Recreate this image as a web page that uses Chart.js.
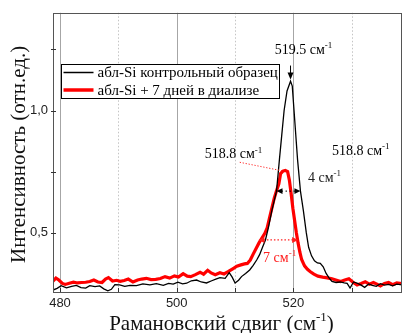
<!DOCTYPE html>
<html>
<head>
<meta charset="utf-8">
<script src="https://cdn.jsdelivr.net/npm/chart.js@4/dist/chart.umd.min.js"></script>
<style>
html,body{margin:0;padding:0;background:#fff;}
#c{display:block;}
</style>
</head>
<body>
<canvas id="c" width="404" height="333"></canvas>
<script>
// ---- data ----
const seriesLabels = ['абл-Si контрольный образец', 'абл-Si + 7 дней в диализе'];
const blackX = [478.8,479.5,480.2,481.1,482.0,482.8,483.6,484.4,485.1,486.0,486.8,487.5,488.2,488.8,489.4,490.2,491.1,492.0,493.1,494.2,495.4,496.5,497.7,498.6,499.4,500.2,501.0,501.7,502.5,503.4,504.2,505.1,506.0,506.7,507.4,508.3,509.0,509.5,510.0,510.6,511.1,511.8,512.5,513.1,513.7,514.2,514.7,515.2,515.7,516.3,516.8,517.1,517.6,518.0,518.4,518.9,519.5,519.8,520.1,520.4,520.7,521.2,521.7,522.2,522.6,523.1,523.6,524.1,524.6,525.1,525.6,526.1,526.6,527.3,528.0,528.7,529.2,529.7,530.3,531.0,531.6,532.2,532.9,533.5,534.2,534.9,535.6,536.3,537.0,537.7,538.6];
const blackY = [0.265,0.272,0.283,0.274,0.280,0.284,0.275,0.273,0.283,0.279,0.282,0.270,0.262,0.268,0.287,0.286,0.280,0.284,0.283,0.290,0.286,0.291,0.284,0.292,0.289,0.297,0.290,0.293,0.303,0.306,0.298,0.294,0.303,0.310,0.316,0.313,0.336,0.318,0.294,0.305,0.320,0.333,0.347,0.366,0.388,0.410,0.440,0.470,0.520,0.590,0.640,0.670,0.800,0.900,1.000,1.080,1.120,1.100,1.000,0.900,0.800,0.670,0.590,0.500,0.440,0.405,0.385,0.376,0.374,0.360,0.333,0.315,0.300,0.296,0.298,0.294,0.292,0.273,0.298,0.292,0.285,0.276,0.290,0.284,0.280,0.291,0.285,0.288,0.282,0.289,0.286];
const redX = [478.8,479.3,479.8,480.4,480.9,481.6,482.3,483.0,483.7,484.4,485.1,485.8,486.5,487.2,487.8,488.3,489.0,489.7,490.3,491.0,491.7,492.5,493.3,494.0,494.8,495.6,496.4,497.2,498.0,498.8,499.6,500.3,501.1,501.8,502.4,503.2,504.0,504.6,505.3,505.9,506.6,507.4,508.1,508.8,509.6,510.3,511.0,511.6,512.1,512.6,513.1,513.6,514.1,514.6,515.1,515.5,515.9,516.3,516.7,517.1,517.5,517.8,518.2,518.6,519.0,519.3,519.6,519.9,520.2,520.5,520.8,521.1,521.4,521.9,522.4,522.9,523.5,524.2,525.0,525.8,526.6,527.4,528.1,528.8,529.5,530.2,530.9,531.6,532.3,533.0,533.7,534.3,534.9,535.6,536.3,537.0,537.7,538.6];
const redY = [0.302,0.314,0.306,0.292,0.288,0.293,0.297,0.294,0.296,0.297,0.300,0.306,0.298,0.296,0.310,0.316,0.302,0.305,0.301,0.304,0.310,0.298,0.306,0.310,0.313,0.308,0.309,0.312,0.320,0.314,0.323,0.318,0.332,0.322,0.320,0.328,0.338,0.330,0.346,0.335,0.328,0.336,0.331,0.340,0.352,0.363,0.368,0.372,0.374,0.388,0.412,0.435,0.458,0.478,0.497,0.520,0.560,0.600,0.640,0.672,0.700,0.742,0.752,0.755,0.750,0.715,0.660,0.600,0.550,0.500,0.457,0.420,0.390,0.364,0.350,0.340,0.330,0.322,0.318,0.315,0.311,0.305,0.300,0.306,0.311,0.297,0.286,0.292,0.299,0.289,0.296,0.289,0.282,0.292,0.296,0.287,0.294,0.291];
const xTickValues = [480,490,500,510,520,530];
const xLabelValues = [480,500,520];
const xMajorGrid = [480,500,520];
const xMinorGrid = [490,510,530];
const yTickValues = [0.5,0.75,1.0,1.25];
const yLabelValues = [0.5,1.0];
const xRange = [478.8,538.6];
const yRange = [0.257,1.40];

// annotations in data units
const annPeakLabel = {x:516.8, y:1.253, text:'519.5 см', sup:'-1'};
const annPeakArrow = {x:519.5, y0:1.184, y1:1.127};
const annLeftLabel = {x:504.8, y:0.824, text:'518.8 см', sup:'-1'};
const annRightLabel = {x:526.6, y:0.837, text:'518.8 см', sup:'-1'};
const annLeftPointer = {x0:510.8, y0:0.788, x1:518.3, y1:0.752};
const annBlackWidth = {x0:517.1, x1:521.2, y:0.67, label:{x:522.5, y:0.727, text:'4 см', sup:'-1'}};
const annRedWidth = {x0:514.0, x1:520.8, y:0.47, label:{x:514.8, y:0.40, text:'7 см', sup:'-1'}};

const SERIF = '"Liberation Serif","Times New Roman",serif';
const SANS = '"Liberation Sans",Arial,sans-serif';

function toPts(xs, ys){ return xs.map((x,i)=>({x:x, y:ys[i]})); }

function drawRich(ctx, x, y, parts, size, color, align){
  ctx.save();
  ctx.fillStyle = color;
  ctx.textBaseline = 'alphabetic';
  ctx.textAlign = 'left';
  const supSize = Math.round(size*0.62);
  let w = 0;
  parts.forEach(p=>{
    ctx.font = (p.sup?supSize:size)+'px '+SERIF;
    p.w = ctx.measureText(p.t).width;
    w += p.w;
  });
  let cx = align==='center' ? x - w/2 : x;
  parts.forEach(p=>{
    ctx.font = (p.sup?supSize:size)+'px '+SERIF;
    ctx.fillText(p.t, cx, p.sup ? y - size*0.42 : y);
    cx += p.w;
  });
  ctx.restore();
}

function arrowHead(ctx, x, y, dx, dy, len, half, color){
  ctx.save();
  ctx.fillStyle = color;
  ctx.beginPath();
  ctx.moveTo(x, y);
  ctx.lineTo(x - dx*len - dy*half, y - dy*len + dx*half);
  ctx.lineTo(x - dx*len + dy*half, y - dy*len - dx*half);
  ctx.closePath();
  ctx.fill();
  ctx.restore();
}

const customDraw = {
  id: 'customDraw',
  beforeDatasetsDraw(chart){
    const ctx = chart.ctx, a = chart.chartArea, xs = chart.scales.x;
    ctx.save();
    ctx.lineWidth = 1;
    ctx.strokeStyle = '#c4c4c4';
    ctx.setLineDash([1.5,2]);
    xMinorGrid.forEach(v=>{
      const px = Math.round(xs.getPixelForValue(v))+0.5;
      ctx.beginPath(); ctx.moveTo(px, a.top); ctx.lineTo(px, a.bottom); ctx.stroke();
    });
    ctx.setLineDash([]);
    ctx.strokeStyle = '#a6a6a6';
    xMajorGrid.forEach(v=>{
      const px = Math.round(xs.getPixelForValue(v))+0.5;
      ctx.beginPath(); ctx.moveTo(px, a.top); ctx.lineTo(px, a.bottom); ctx.stroke();
    });
    ctx.restore();
  },
  afterDatasetsDraw(chart){
    const ctx = chart.ctx, a = chart.chartArea, xs = chart.scales.x, ys = chart.scales.y;
    const X = v=>xs.getPixelForValue(v), Y = v=>ys.getPixelForValue(v);
    ctx.save();
    // frame
    ctx.strokeStyle = '#555';
    ctx.lineWidth = 1;
    ctx.strokeRect(Math.round(a.left)+0.5, Math.round(a.top)+0.5, Math.round(a.right-a.left)-1, Math.round(a.bottom-a.top));
    // ticks
    ctx.strokeStyle = '#333';
    xTickValues.forEach(v=>{
      const px = Math.round(X(v))+0.5;
      ctx.beginPath(); ctx.moveTo(px, a.bottom); ctx.lineTo(px, a.bottom-4); ctx.stroke();
    });
    yTickValues.forEach(v=>{
      const py = Math.round(Y(v))+0.5;
      ctx.beginPath(); ctx.moveTo(a.left-2, py); ctx.lineTo(a.left+3, py); ctx.stroke();
    });

    // legend
    const lx = 61.5, ly = 64.5, lw = 218, lh = 34;
    ctx.fillStyle = '#fff';
    ctx.fillRect(lx, ly, lw, lh);
    ctx.strokeStyle = '#000';
    ctx.lineWidth = 1;
    ctx.strokeRect(lx, ly, lw, lh);
    chart.data.datasets.forEach((ds,i)=>{
      const yy = ly + 8 + i*17.5;
      ctx.strokeStyle = ds.borderColor;
      ctx.lineWidth = i===0 ? 1.5 : 3.5;
      ctx.beginPath(); ctx.moveTo(lx+2, yy); ctx.lineTo(lx+32, yy); ctx.stroke();
      ctx.fillStyle = '#000';
      ctx.font = '15px '+SERIF;
      ctx.textBaseline = 'middle';
      ctx.textAlign = 'left';
      ctx.fillText(ds.label, lx+36, yy+1);
    });

    // peak label + arrow
    drawRich(ctx, X(annPeakLabel.x), Y(annPeakLabel.y)+5, [{t:annPeakLabel.text},{t:annPeakLabel.sup,sup:true}], 14, '#000', 'left');
    ctx.strokeStyle = '#000'; ctx.lineWidth = 1;
    ctx.beginPath(); ctx.moveTo(X(annPeakArrow.x), Y(annPeakArrow.y0)); ctx.lineTo(X(annPeakArrow.x), Y(annPeakArrow.y1)-5); ctx.stroke();
    arrowHead(ctx, X(annPeakArrow.x), Y(annPeakArrow.y1), 0, 1, 7, 3, '#000');

    // left/right 518.8 labels
    drawRich(ctx, X(annLeftLabel.x), Y(annLeftLabel.y)+5, [{t:annLeftLabel.text},{t:annLeftLabel.sup,sup:true}], 14, '#000', 'left');
    drawRich(ctx, X(annRightLabel.x), Y(annRightLabel.y)+5, [{t:annRightLabel.text},{t:annRightLabel.sup,sup:true}], 14, '#000', 'left');

    // red dotted pointer
    ctx.strokeStyle = '#ff2020'; ctx.lineWidth = 1; ctx.setLineDash([1.2,1.8]);
    ctx.beginPath(); ctx.moveTo(X(annLeftPointer.x0), Y(annLeftPointer.y0)); ctx.lineTo(X(annLeftPointer.x1), Y(annLeftPointer.y1)); ctx.stroke();

    // black width arrow (4 cm-1)
    const bw = annBlackWidth;
    ctx.strokeStyle = '#000'; ctx.lineWidth = 1; ctx.setLineDash([1.5,2.5]);
    ctx.beginPath(); ctx.moveTo(X(bw.x0)+5, Y(bw.y)); ctx.lineTo(X(bw.x1)-5, Y(bw.y)); ctx.stroke();
    ctx.setLineDash([]);
    arrowHead(ctx, X(bw.x0), Y(bw.y), -1, 0, 6, 2.8, '#000');
    arrowHead(ctx, X(bw.x1), Y(bw.y), 1, 0, 6, 2.8, '#000');
    drawRich(ctx, X(bw.label.x), Y(bw.label.y)+5, [{t:bw.label.text},{t:bw.label.sup,sup:true}], 14, '#222', 'left');

    // red width arrow (7 cm-1)
    const rw = annRedWidth;
    ctx.strokeStyle = '#ff2020'; ctx.lineWidth = 1.2; ctx.setLineDash([1.5,2]);
    ctx.beginPath(); ctx.moveTo(X(rw.x0)+5, Y(rw.y)); ctx.lineTo(X(rw.x1)-5, Y(rw.y)); ctx.stroke();
    ctx.setLineDash([]);
    arrowHead(ctx, X(rw.x0), Y(rw.y), -1, 0, 6, 3, '#ff2020');
    arrowHead(ctx, X(rw.x1), Y(rw.y), 1, 0, 6, 3, '#ff2020');
    drawRich(ctx, X(rw.label.x), Y(rw.label.y)+5, [{t:rw.label.text},{t:rw.label.sup,sup:true}], 14, '#ff2020', 'left');

    // axis titles
    drawRich(ctx, (a.left+a.right)/2 - 6, 330, [{t:'Рамановский сдвиг (см'},{t:'-1',sup:true},{t:')'}], 21, '#111', 'center');
    ctx.save();
    ctx.translate(25, (a.top+a.bottom)/2 + 2);
    ctx.rotate(-Math.PI/2);
    ctx.fillStyle = '#111';
    ctx.font = '21px '+SERIF;
    ctx.textAlign = 'center';
    ctx.textBaseline = 'alphabetic';
    ctx.fillText('Интенсивность (отн.ед.)', 0, 0);
    ctx.restore();
    ctx.restore();
  }
};

new Chart(document.getElementById('c'), {
  type: 'line',
  data: {
    datasets: [
      {label: seriesLabels[0], data: toPts(blackX, blackY), borderColor: '#000000', borderWidth: 1.3, pointRadius: 0, tension: 0, fill: false},
      {label: seriesLabels[1], data: toPts(redX, redY), borderColor: '#ff0000', borderWidth: 3.2, pointRadius: 0, tension: 0, fill: false}
    ]
  },
  options: {
    responsive: false,
    animation: false,
    devicePixelRatio: 1,
    layout: {padding: {top: 12, right: 2, left: 0, bottom: 0}},
    plugins: {legend: {display: false}, tooltip: {enabled: false}},
    scales: {
      x: {
        type: 'linear', min: xRange[0], max: xRange[1],
        afterBuildTicks: s => { s.ticks = xTickValues.map(v=>({value:v})); },
        afterFit: s => { s.height = 41; },
        ticks: {autoSkip: false, maxRotation: 0, padding: 4, color: '#222', font: {family: SANS, size: 13},
          callback: v => xLabelValues.includes(v) ? String(v) : ''},
        grid: {display: true, drawOnChartArea: false, drawTicks: false},
        border: {display: false}
      },
      y: {
        type: 'linear', min: yRange[0], max: yRange[1],
        afterBuildTicks: s => { s.ticks = yTickValues.map(v=>({value:v})); },
        afterFit: s => { s.width = 53; },
        ticks: {autoSkip: false, padding: 5, color: '#222', font: {family: SANS, size: 13},
          callback: v => yLabelValues.includes(v) ? v.toFixed(1).replace('.', ',') : ''},
        grid: {display: true, drawOnChartArea: false, drawTicks: false},
        border: {display: false}
      }
    }
  },
  plugins: [customDraw]
});
</script>
</body>
</html>
